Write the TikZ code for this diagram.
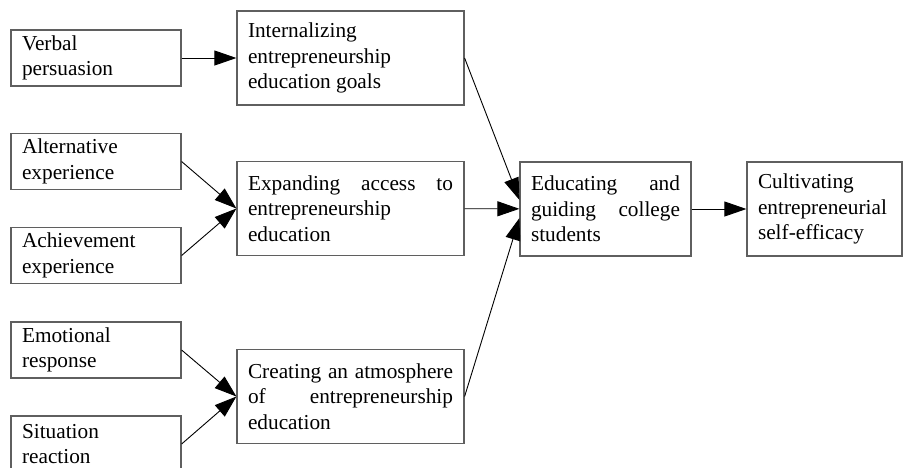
\documentclass[tikz,border=0pt]{standalone}
\usepackage{fontspec}
\setmainfont{Liberation Serif}
\usetikzlibrary{arrows.meta}
\definecolor{framegray}{RGB}{95, 95, 95}
\tolerance=9999
\hbadness=10000

\tikzset{
    boxtext/.style = {font=\fontsize{21.3}{25.5}\selectfont},
    factor/.style  = {boxtext, draw=framegray, line width=1.2pt, text width=148pt, minimum height=56pt,
                      inner xsep=11pt, inner ysep=2pt, align=left},
    stage/.style   = {boxtext, draw=framegray, line width=1.2pt, text width=205pt, minimum height=94pt,
                      inner xsep=11pt, inner ysep=2pt, align=justify},
    link/.style    = {-{Triangle[length=22pt,width=15pt]}, line width=0.9pt}
}

\begin{document}
\begin{tikzpicture}[x=1pt, y=-1pt]
            \useasboundingbox (0,0) rectangle (903,467);
            % sources of self-efficacy
            \node[factor] (verbal)  at ( 96.0,  58.0) {Verbal\\persuasion};
            \node[factor] (alter)   at ( 96.0, 161.5) {Alternative\\experience};
            \node[factor] (achieve) at ( 96.0, 255.5) {Achievement\\experience};
            \node[factor] (emotion) at ( 96.0, 350.0) {Emotional\\response};
            \node[factor] (situate) at ( 96.0, 444.0) {Situation\\reaction};
            % education measures
            \node[stage]  (internal) at (350.5,  58.0) {Internalizing\\entrepreneurship\\education goals};
            \node[stage]  (expand)   at (350.5, 208.5) {Expanding access to\linebreak entrepreneurship\\education};
            \node[stage]  (atmos)    at (350.5, 396.5) {Creating an atmosphere\linebreak of entrepreneurship\linebreak education};
            \node[stage, text width=149pt]             (guide)    at (605.5, 209.0) {Educating and\linebreak guiding college\linebreak students};
            \node[stage, text width=133pt, align=left] (efficacy) at (824.5, 209.0) {Cultivating\\entrepreneurial\\self-efficacy};
            % connections
            \draw[link] (verbal)         -- (internal);
            \draw[link] (alter.east)     -- (expand.west);
            \draw[link] (achieve.east)   -- (expand.west);
            \draw[link] (emotion.east)   -- (atmos.west);
            \draw[link] (situate.east)   -- (atmos.west);
            \draw[link] (internal.east)  -- (guide.174);
            \draw[link] (expand)         -- (guide);
            \draw[link] (atmos.east)     -- (guide.186);
            \draw[link] (guide)          -- (efficacy);
\end{tikzpicture}
\end{document}
